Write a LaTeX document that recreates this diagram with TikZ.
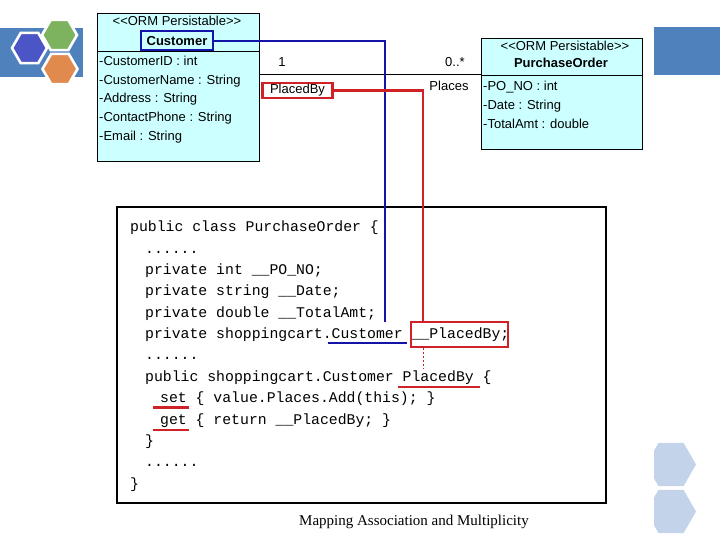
\documentclass[tikz,border=0pt]{standalone}
\usepackage{fontspec}
\setmainfont{Liberation Sans}
\newfontfamily\codefont{Liberation Mono}
\newfontfamily\capfont{Liberation Serif}
\definecolor{slideblue}{HTML}{4F81BD}
\definecolor{hexblue}{HTML}{4B55C6}
\definecolor{hexgreen}{HTML}{7DB35E}
\definecolor{hexorange}{HTML}{E08A4E}
\definecolor{hexlight}{HTML}{C2D3EA}
\definecolor{umlfill}{HTML}{CCFFFF}
\definecolor{conblue}{HTML}{1414A8}
\definecolor{conred}{HTML}{D02226}
\tikzset{
  umltext/.style={inner sep=0pt, anchor=west, font=\fontsize{13}{15}\selectfont, text height=9.5pt, text depth=2.5pt},
  umlc/.style={umltext, anchor=center},
  codetext/.style={inner sep=0pt, anchor=west, font=\codefont\fontsize{14.8}{17}\selectfont, text height=10pt, text depth=3pt},
  umlbox/.style={draw=black, line width=0.9pt, fill=umlfill},
  bluecon/.style={draw=conblue, line width=2.4pt},
  redcon/.style={draw=conred, line width=2.4pt},
  underl/.style={draw=conred, line width=2.2pt},
  hexw/.style={draw=white, line width=2.6pt, line join=miter}
}
\begin{document}
\begin{tikzpicture}[x=1pt,y=-1pt]
\useasboundingbox (0,0) rectangle (720,540);
\fill[white] (0,0) rectangle (720,540);
% decorations
\fill[slideblue] (0,28) rectangle (83,77);
\fill[slideblue] (654,27) rectangle (720,75);
\filldraw[hexw, fill=hexblue] (29.5,48) +(0:17.5) -- +(60:17.5) -- +(120:17.5) -- +(180:17.5) -- +(240:17.5) -- +(300:17.5) -- cycle;
\filldraw[hexw, fill=hexgreen] (59.5,35) +(0:17.5) -- +(60:17.5) -- +(120:17.5) -- +(180:17.5) -- +(240:17.5) -- +(300:17.5) -- cycle;
\filldraw[hexw, fill=hexorange] (60,69) +(0:17.5) -- +(60:17.5) -- +(120:17.5) -- +(180:17.5) -- +(240:17.5) -- +(300:17.5) -- cycle;
\begin{scope}
\clip (654,430) rectangle (720,540);
\fill[hexlight] (671,464.5) +(0:25) -- +(60:25) -- +(120:25) -- +(180:25) -- +(240:25) -- +(300:25) -- cycle;
\fill[hexlight] (671,511.5) +(0:25) -- +(60:25) -- +(120:25) -- +(180:25) -- +(240:25) -- +(300:25) -- cycle;
\end{scope}
% Customer class
\node[umlbox, minimum width=162pt, minimum height=148pt, inner sep=0pt] (customer) at (178,87) {};
\draw[line width=0.9pt] (97,51) -- (259,51);
\node[umlc] (custstereo) at (177,22) {<{}<ORM Persistable>{}>};
\node[draw=conblue, line width=2pt, minimum width=72pt, minimum height=19pt, inner sep=0pt, font=\fontsize{13}{15}\selectfont\bfseries] (custlabel) at (177,41) {Customer};
\node[umltext] (c1) at (99,62) {-CustomerID : int};
\node[umltext] (c2) at (99,81) {-CustomerName : String};
\node[umltext] (c3) at (99,99.5) {-Address : String};
\node[umltext] (c4) at (99,118) {-ContactPhone : String};
\node[umltext] (c5) at (99,137) {-Email : String};
% PurchaseOrder class
\node[umlbox, minimum width=161pt, minimum height=111pt, inner sep=0pt] (po) at (561.5,93.5) {};
\draw[line width=0.9pt] (481,75) -- (642,75);
\node[umlc] (postereo) at (565,47) {<{}<ORM Persistable>{}>};
\node[umlc, font=\fontsize{13}{15}\selectfont\bfseries] (polabel) at (561,64) {PurchaseOrder};
\node[umltext] (p1) at (483,87) {-PO\_NO : int};
\node[umltext] (p2) at (483,106) {-Date : String};
\node[umltext] (p3) at (483,125) {-TotalAmt : double};
% association
\draw[line width=0.9pt] (customer.east |- po.north) ++(0,37) coordinate (assocL) -- (po.west |- assocL);
\node[umlc] (mult1) at (282,63) {1};
\node[umlc] (mult2) at (455,63) {0..*};
\node[umlc] (places) at (449,87.5) {Places};
\node[umlc, draw=conred, line width=2.4pt, minimum width=70pt, minimum height=15pt, inner sep=0pt] (pbbox) at (297.5,90.5) {PlacedBy};
% code box
\node[draw=black, line width=1.1pt, minimum width=489pt, minimum height=296pt, inner sep=0pt] (codebox) at (361.5,355) {};
\node[codetext] (l1) at (130,228) {public class PurchaseOrder \{};
\node[codetext] (l2) at (145,249.5) {......};
\node[codetext] (l3) at (145,271) {private int \_\_PO\_NO;};
\node[codetext] (l4) at (145,292) {private string \_\_Date;};
\node[codetext] (l5) at (145,313.5) {private double \_\_TotalAmt;};
\node[codetext] (l6) at (145,335) {private shoppingcart.Customer \_\_PlacedBy;};
\node[codetext] (l7) at (145,356) {......};
\node[codetext] (l8) at (145,377.5) {public shoppingcart.Customer PlacedBy \{};
\node[codetext] (l9) at (160,399) {set \{ value.Places.Add(this); \}};
\node[codetext] (l10) at (160,420.5) {get \{ return \_\_PlacedBy; \}};
\node[codetext] (l11) at (145,442) {\}};
\node[codetext] (l12) at (145,463) {......};
\node[codetext] (l13) at (130,485) {\}};
\node[draw=conred, line width=2.4pt, minimum width=97pt, minimum height=25pt, inner sep=0pt] (pbfield) at (459.5,334.5) {};
% connectors
\coordinate (blueend) at (385,322);
\draw[bluecon] (custlabel.east) -| (blueend);
\coordinate (redtop) at (423,322);
\draw[redcon] (pbbox.east) -| (redtop);
\coordinate (dashend) at (423,369);
\draw[draw=conred, line width=0.7pt, dash pattern=on 2pt off 2pt] (redtop |- pbfield.south) -- (dashend);
% underlines
\draw[draw=conblue, line width=1.6pt] (328,343) -- (407,343);
\draw[underl] (398,387) -- (480,387);
\draw[underl] (153,407.5) -- (189,407.5);
\draw[underl] (153,430) -- (189,430);
% caption
\node[inner sep=0pt, font=\capfont\fontsize{15}{17}\selectfont] (caption) at (414,522) {Mapping Association and Multiplicity};
\end{tikzpicture}
\end{document}
